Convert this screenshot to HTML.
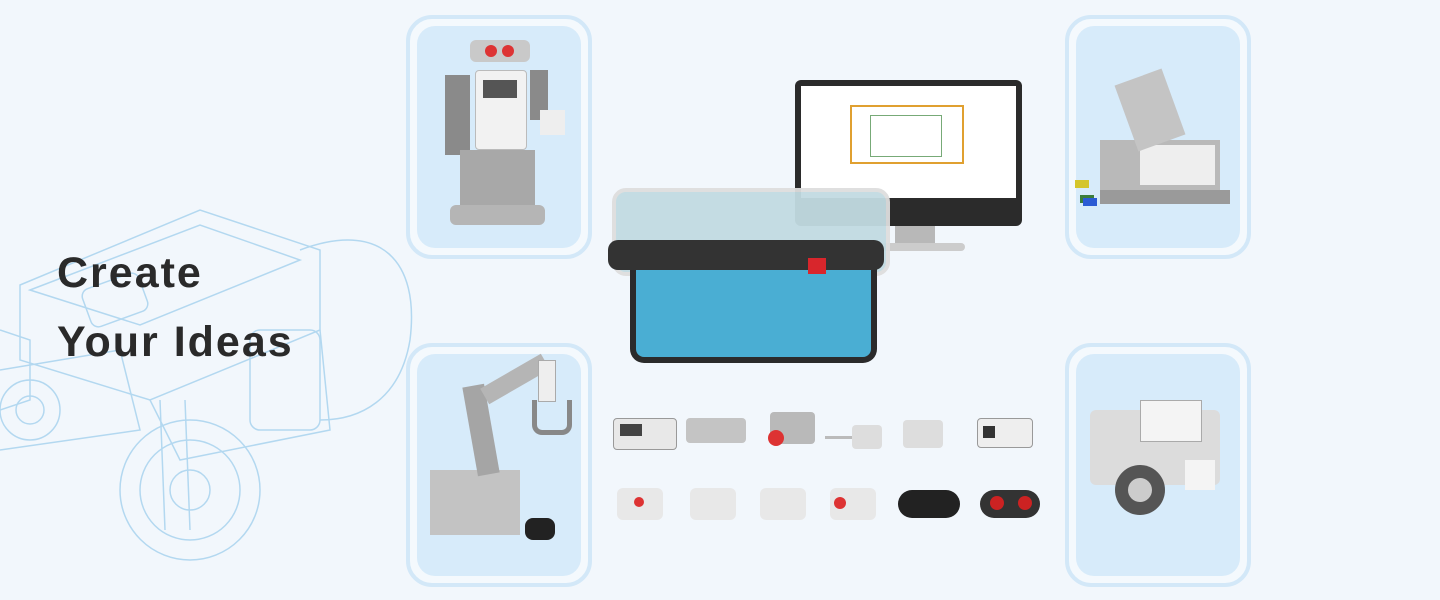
<!DOCTYPE html>
<html><head><meta charset="utf-8"><style>
body{margin:0;width:1440px;height:600px;overflow:hidden;background:#f2f7fc;font-family:"Liberation Sans",sans-serif;position:relative}
.card{position:absolute;width:178px;height:236px;border:4px solid #d3e8f8;border-radius:26px;background:#f4f9fd}
.card .in{position:absolute;left:7px;top:7px;right:7px;bottom:7px;background:#d7ebfa;border-radius:18px}
.a{position:absolute}
h1{position:absolute;left:57px;margin:0;font-size:43px;font-weight:bold;color:#2a2a2a;letter-spacing:2px}
</style></head><body>
<svg class="a" style="left:0;top:100px" width="420" height="500" fill="none" stroke="#b3d8f0" stroke-width="1.5">
<path d="M20 185 L200 110 L320 150 L320 230 L150 300 L20 260Z"/>
<path d="M30 190 L200 125 L300 160 L140 225Z"/>
<rect x="85" y="180" width="60" height="40" rx="8" transform="rotate(-20 115 200)"/>
<path d="M300 150 C380 120 420 160 410 240 C400 300 360 320 320 320"/>
<path d="M320 230 L330 330 L180 360 L150 300"/>
<path d="M0 230 L30 240 L30 300 L0 310"/>
<circle cx="190" cy="390" r="70"/><circle cx="190" cy="390" r="50"/><circle cx="190" cy="390" r="20"/>
<circle cx="30" cy="310" r="30"/><circle cx="30" cy="310" r="14"/>
<rect x="250" y="230" width="70" height="100" rx="10"/>
<path d="M160 300 L165 430 M185 300 L190 430"/>
<path d="M0 270 L120 250 L140 330 L0 350"/>
</svg>
<h1 style="top:249px">Create</h1>
<h1 style="top:318px">Your Ideas</h1>

<div class="card" style="left:406px;top:15px"><div class="in"></div></div>
<div class="card" style="left:406px;top:343px"><div class="in"></div></div>
<div class="card" style="left:1065px;top:15px"><div class="in"></div></div>
<div class="card" style="left:1065px;top:343px"><div class="in"></div></div>

<div class="a" style="left:470px;top:40px;width:60px;height:22px;background:#c9c9c9;border-radius:6px"></div>
<div class="a" style="left:485px;top:45px;width:12px;height:12px;background:#d33;border-radius:50%"></div>
<div class="a" style="left:502px;top:45px;width:12px;height:12px;background:#d33;border-radius:50%"></div>
<div class="a" style="left:475px;top:70px;width:50px;height:78px;background:#f2f2f2;border:1px solid #bbb;border-radius:4px"></div>
<div class="a" style="left:483px;top:80px;width:34px;height:18px;background:#555"></div>
<div class="a" style="left:445px;top:75px;width:25px;height:80px;background:#8a8a8a"></div>
<div class="a" style="left:530px;top:70px;width:18px;height:50px;background:#8a8a8a"></div>
<div class="a" style="left:540px;top:110px;width:25px;height:25px;background:#eee"></div>
<div class="a" style="left:460px;top:150px;width:75px;height:60px;background:#a8a8a8"></div>
<div class="a" style="left:450px;top:205px;width:95px;height:20px;background:#b5b5b5;border-radius:6px"></div>

<div class="a" style="left:1100px;top:140px;width:120px;height:50px;background:#b9b9b9"></div>
<div class="a" style="left:1140px;top:145px;width:75px;height:40px;background:#eee"></div>
<div class="a" style="left:1125px;top:75px;width:50px;height:70px;background:#c4c4c4;transform:rotate(-20deg)"></div>
<div class="a" style="left:1075px;top:180px;width:14px;height:8px;background:#d4c52b"></div>
<div class="a" style="left:1080px;top:195px;width:14px;height:8px;background:#3b7d3b"></div>
<div class="a" style="left:1083px;top:198px;width:14px;height:8px;background:#2b5bd4"></div>
<div class="a" style="left:1100px;top:190px;width:130px;height:14px;background:#9a9a9a"></div>

<div class="a" style="left:430px;top:470px;width:90px;height:65px;background:#c3c3c3"></div>
<div class="a" style="left:470px;top:385px;width:22px;height:90px;background:#a5a5a5;transform:rotate(-10deg)"></div>
<div class="a" style="left:480px;top:370px;width:70px;height:18px;background:#b5b5b5;transform:rotate(-30deg)"></div>
<div class="a" style="left:538px;top:360px;width:16px;height:40px;background:#eee;border:1px solid #aaa"></div>
<div class="a" style="left:532px;top:400px;width:30px;height:30px;border:5px solid #888;border-top:none;border-radius:0 0 10px 10px"></div>
<div class="a" style="left:525px;top:518px;width:30px;height:22px;background:#222;border-radius:8px"></div>

<div class="a" style="left:1090px;top:410px;width:130px;height:75px;background:#dcdcdc;border-radius:6px"></div>
<div class="a" style="left:1140px;top:400px;width:60px;height:40px;background:#f4f4f4;border:1px solid #aaa"></div>
<div class="a" style="left:1115px;top:465px;width:50px;height:50px;background:#555;border-radius:50%"></div>
<div class="a" style="left:1128px;top:478px;width:24px;height:24px;background:#ccc;border-radius:50%"></div>
<div class="a" style="left:1185px;top:460px;width:30px;height:30px;background:#f4f4f4"></div>

<div class="a" style="left:795px;top:80px;width:227px;height:146px;background:#2b2b2b;border-radius:6px"></div>
<div class="a" style="left:801px;top:86px;width:215px;height:112px;background:#fff"></div>
<div class="a" style="left:850px;top:105px;width:110px;height:55px;border:2px solid #e0a030"></div>
<div class="a" style="left:870px;top:115px;width:70px;height:40px;border:1px solid #7a7"></div>
<div class="a" style="left:895px;top:226px;width:40px;height:18px;background:#b8b8b8"></div>
<div class="a" style="left:865px;top:243px;width:100px;height:8px;background:#ccc;border-radius:4px"></div>

<div class="a" style="left:612px;top:188px;width:270px;height:80px;background:#c2dbe2;border:4px solid #dedede;border-radius:14px;opacity:.95"></div>
<div class="a" style="left:630px;top:262px;width:235px;height:95px;background:#4aaed3;border:6px solid #2b2b2b;border-top:none;border-radius:0 0 14px 14px"></div>
<div class="a" style="left:608px;top:240px;width:276px;height:30px;background:#333;border-radius:10px"></div>
<div class="a" style="left:808px;top:258px;width:18px;height:16px;background:#d8262c"></div>

<div class="a" style="left:613px;top:418px;width:62px;height:30px;background:#e8e8e8;border:1px solid #999;border-radius:4px"></div>
<div class="a" style="left:620px;top:424px;width:22px;height:12px;background:#444"></div>
<div class="a" style="left:686px;top:418px;width:60px;height:25px;background:#c4c4c4;border-radius:4px"></div>
<div class="a" style="left:770px;top:412px;width:45px;height:32px;background:#b9b9b9;border-radius:4px"></div>
<div class="a" style="left:768px;top:430px;width:16px;height:16px;background:#d33;border-radius:50%"></div>
<div class="a" style="left:825px;top:436px;width:40px;height:3px;background:#bbb"></div>
<div class="a" style="left:852px;top:425px;width:30px;height:24px;background:#ddd;border-radius:4px"></div>
<div class="a" style="left:903px;top:420px;width:40px;height:28px;background:#ddd;border-radius:4px"></div>
<div class="a" style="left:977px;top:418px;width:54px;height:28px;background:#eee;border:1px solid #999;border-radius:4px"></div>
<div class="a" style="left:983px;top:426px;width:12px;height:12px;background:#333"></div>
<div class="a" style="left:617px;top:488px;width:46px;height:32px;background:#e8e8e8;border-radius:6px"></div>
<div class="a" style="left:634px;top:497px;width:10px;height:10px;background:#d33;border-radius:50%"></div>
<div class="a" style="left:690px;top:488px;width:46px;height:32px;background:#e8e8e8;border-radius:6px"></div>
<div class="a" style="left:760px;top:488px;width:46px;height:32px;background:#e8e8e8;border-radius:6px"></div>
<div class="a" style="left:830px;top:488px;width:46px;height:32px;background:#e8e8e8;border-radius:6px"></div>
<div class="a" style="left:834px;top:497px;width:12px;height:12px;background:#d33;border-radius:50%"></div>
<div class="a" style="left:898px;top:490px;width:62px;height:28px;background:#222;border-radius:14px"></div>
<div class="a" style="left:980px;top:490px;width:60px;height:28px;background:#333;border-radius:14px"></div>
<div class="a" style="left:990px;top:496px;width:14px;height:14px;background:#c22;border-radius:50%"></div>
<div class="a" style="left:1018px;top:496px;width:14px;height:14px;background:#c22;border-radius:50%"></div>
</body></html>
